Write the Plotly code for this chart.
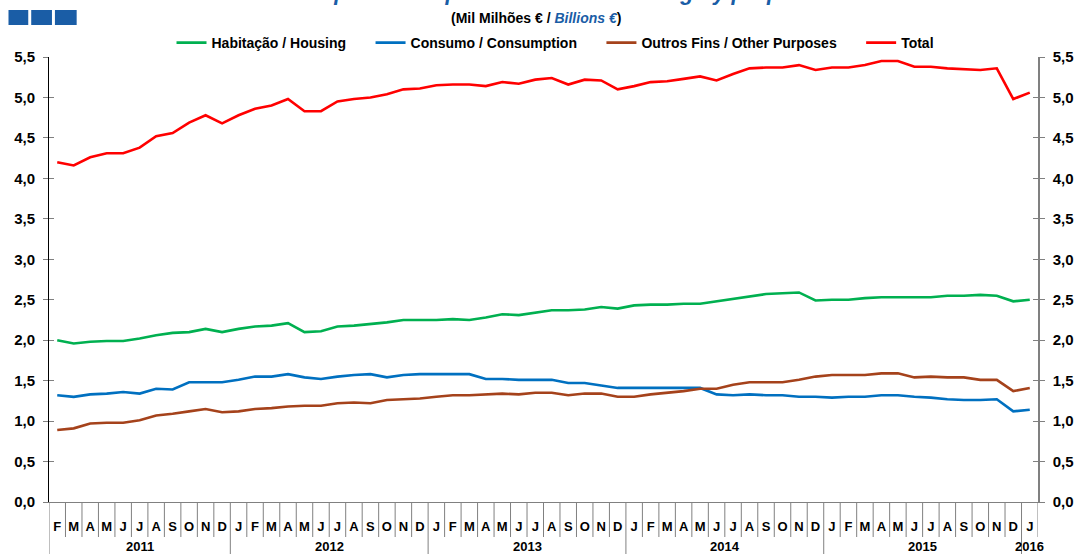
import plotly.graph_objects as go

# ---------------- data ----------------
month_labels = (['F', 'M', 'A', 'M', 'J', 'J', 'A', 'S', 'O', 'N', 'D']
                + ['J', 'F', 'M', 'A', 'M', 'J', 'J', 'A', 'S', 'O', 'N', 'D'] * 4
                + ['J'])
year_labels = ['2011', '2012', '2013', '2014', '2015', '2016']
year_first_month = [0, 11, 23, 35, 47, 59]
year_last_month = [10, 22, 34, 46, 58, 59]

housing = [2.00, 1.96, 1.98, 1.99, 1.99, 2.02, 2.06, 2.09, 2.10, 2.14, 2.10,
           2.14, 2.17, 2.18, 2.21, 2.10, 2.11, 2.17, 2.18, 2.20, 2.22, 2.25, 2.25,
           2.25, 2.26, 2.25, 2.28, 2.32, 2.31, 2.34, 2.37, 2.37, 2.38, 2.41, 2.39,
           2.43, 2.44, 2.44, 2.45, 2.45, 2.48, 2.51, 2.54, 2.57, 2.58, 2.59, 2.49,
           2.50, 2.50, 2.52, 2.53, 2.53, 2.53, 2.53, 2.55, 2.55, 2.56, 2.55, 2.48,
           2.50]
consumption = [1.32, 1.30, 1.33, 1.34, 1.36, 1.34, 1.40, 1.39, 1.48, 1.48, 1.48,
               1.51, 1.55, 1.55, 1.58, 1.54, 1.52, 1.55, 1.57, 1.58, 1.54, 1.57, 1.58,
               1.58, 1.58, 1.58, 1.52, 1.52, 1.51, 1.51, 1.51, 1.47, 1.47, 1.44, 1.41,
               1.41, 1.41, 1.41, 1.41, 1.41, 1.33, 1.32, 1.33, 1.32, 1.32, 1.30, 1.30,
               1.29, 1.30, 1.30, 1.32, 1.32, 1.30, 1.29, 1.27, 1.26, 1.26, 1.27, 1.12,
               1.14]
other_purposes = [0.89, 0.91, 0.97, 0.98, 0.98, 1.01, 1.07, 1.09, 1.12, 1.15, 1.11,
                  1.12, 1.15, 1.16, 1.18, 1.19, 1.19, 1.22, 1.23, 1.22, 1.26, 1.27, 1.28,
                  1.30, 1.32, 1.32, 1.33, 1.34, 1.33, 1.35, 1.35, 1.32, 1.34, 1.34, 1.30,
                  1.30, 1.33, 1.35, 1.37, 1.40, 1.40, 1.45, 1.48, 1.48, 1.48, 1.51, 1.55,
                  1.57, 1.57, 1.57, 1.59, 1.59, 1.54, 1.55, 1.54, 1.54, 1.51, 1.51, 1.37,
                  1.41]
total = [4.20, 4.16, 4.26, 4.31, 4.31, 4.38, 4.52, 4.56, 4.69, 4.78, 4.68,
         4.78, 4.86, 4.90, 4.98, 4.83, 4.83, 4.95, 4.98, 5.00, 5.04, 5.10, 5.11,
         5.15, 5.16, 5.16, 5.14, 5.19, 5.17, 5.22, 5.24, 5.16, 5.22, 5.21, 5.10,
         5.14, 5.19, 5.20, 5.23, 5.26, 5.21, 5.29, 5.36, 5.37, 5.37, 5.40, 5.34,
         5.37, 5.37, 5.40, 5.45, 5.45, 5.38, 5.38, 5.36, 5.35, 5.34, 5.36, 4.98,
         5.06]

series_names = ['Habitação / Housing', 'Consumo / Consumption',
                'Outros Fins / Other Purposes', 'Total']
series_colors = ['#00B050', '#0070C0', '#A5421B', '#FF0000']

y_tick_values = [0.0, 0.5, 1.0, 1.5, 2.0, 2.5, 3.0, 3.5, 4.0, 4.5, 5.0, 5.5]
y_tick_text = ['0,0', '0,5', '1,0', '1,5', '2,0', '2,5', '3,0', '3,5', '4,0', '4,5', '5,0', '5,5']

# ---------------- layout geometry (pixels) ----------------
W, H = 1086, 554
ML, MR, MT, MB = 49, 36, 57, 52
PW = W - ML - MR
PH = H - MT - MB


def px_x(px):
    return (px - ML) / PW


def px_y(py):
    return (H - MB - py) / PH


FONT = 'Liberation Sans, Arial, sans-serif'
GRAY = '#808080'
NBSP = '\u00a0'

x_idx = list(range(len(month_labels)))

fig = go.Figure()
pads = [5, 5, 5, 0]
for name, color, vals, pad in zip(series_names, series_colors,
                                  [housing, consumption, other_purposes, total], pads):
    fig.add_trace(go.Scatter(x=x_idx, y=vals, mode='lines', name=name + NBSP * pad,
                             line=dict(color=color, width=2.6), hoverlabel=dict(namelength=-1)))

# helper (empty) traces so that the extra y axes are drawn
for ax in ['y2', 'y3', 'y4']:
    fig.add_trace(go.Scatter(x=[None], y=[None], yaxis=ax, showlegend=False,
                             hoverinfo='skip', mode='lines'))

# separators under x axis
shapes = []
year_bounds = [f - 0.5 for f in year_first_month]
for k in range(len(month_labels) + 1):
    xb = k - 0.5
    is_year = xb in year_bounds
    shapes.append(dict(type='line', xref='x', yref='paper', x0=xb, x1=xb,
                       y0=0, y1=px_y(556 if is_year else 537),
                       line=dict(color=GRAY, width=1)))
# logo squares
for x0, x1 in [(8, 28), (31, 52), (55, 77)]:
    shapes.append(dict(type='rect', xref='paper', yref='paper',
                       x0=px_x(x0), x1=px_x(x1), y0=px_y(25), y1=px_y(10),
                       fillcolor='#1A5DA6', line=dict(width=0)))

annotations = []
for lab, f, l in zip(year_labels, year_first_month, year_last_month):
    annotations.append(dict(x=(f + l) / 2, y=px_y(546), xref='x', yref='paper',
                            text=lab, showarrow=False, yanchor='middle',
                            font=dict(family=FONT, size=13, color='#000000', weight='bold')))
annotations.append(dict(x=px_x(542), y=px_y(18), xref='paper', yref='paper',
                        text='(Mil Milhões € / <i><span style="color:#1A5DA6">Billions €</span></i>)',
                        showarrow=False, yanchor='middle', xanchor='center',
                        font=dict(family=FONT, size=14, color='#000000', weight='bold')))
annotations.append(dict(x=px_x(565), y=px_y(-8), xref='paper', yref='paper',
                        text='<i>Empréstimos por finalidade / Lending by purpose</i>',
                        showarrow=False, yanchor='middle', xanchor='center',
                        font=dict(family=FONT, size=22, color='#1A5DA6', weight='bold')))

fig.update_layout(
    width=W, height=H,
    margin=dict(l=ML, r=MR, t=MT, b=MB, pad=0),
    paper_bgcolor='white', plot_bgcolor='white',
    showlegend=True,
    legend=dict(orientation='h', x=px_x(173), xanchor='left', y=px_y(43), yanchor='middle',
                font=dict(family=FONT, size=14, color='#000000', weight='bold'),
                itemwidth=30, tracegroupgap=0, bgcolor='rgba(0,0,0,0)'),
    xaxis=dict(range=[-0.5, len(month_labels) - 0.5], tickmode='array', tickvals=x_idx,
               ticktext=month_labels, ticks='', showgrid=False, zeroline=False,
               showline=True, linecolor=GRAY, linewidth=1, ticklabelstandoff=12,
               tickfont=dict(family=FONT, size=13, color='#000000', weight='bold')),
    yaxis=dict(range=[0, 5.5], tickmode='array', tickvals=y_tick_values, ticktext=y_tick_text,
               ticks='outside', ticklen=5, tickcolor=GRAY, showgrid=False, zeroline=False,
               showline=True, linecolor='#000000', linewidth=1, ticklabelstandoff=5,
               tickfont=dict(family=FONT, size=15, color='#000000', weight='bold')),
    yaxis2=dict(range=[0, 5.5], overlaying='y', side='right', anchor='x', tickmode='array',
                tickvals=y_tick_values, ticktext=y_tick_text, ticks='outside', ticklen=5,
                tickcolor=GRAY, showgrid=False, zeroline=False, showline=True,
                linecolor=GRAY, linewidth=1.5, ticklabelstandoff=5,
                tickfont=dict(family=FONT, size=15, color='#000000', weight='bold')),
    yaxis3=dict(range=[0, 5.5], overlaying='y', side='left', anchor='x', tickmode='array',
                tickvals=y_tick_values, ticks='inside', ticklen=5, tickcolor=GRAY,
                showticklabels=False, showgrid=False, zeroline=False, showline=False),
    yaxis4=dict(range=[0, 5.5], overlaying='y', side='right', anchor='x', tickmode='array',
                tickvals=y_tick_values, ticks='inside', ticklen=5, tickcolor=GRAY,
                showticklabels=False, showgrid=False, zeroline=False, showline=False),
    shapes=shapes,
    annotations=annotations,
)

fig.write_html('out.html', config={'displayModeBar': False},
               post_script="document.body.style.margin='0';")
